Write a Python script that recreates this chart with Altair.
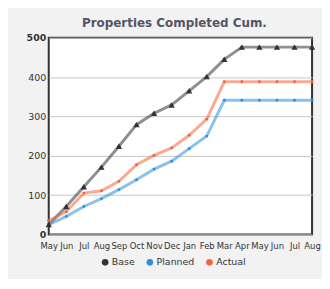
import altair as alt
import pandas as pd

months = ["May", "Jun", "Jul", "Aug", "Sep", "Oct", "Nov", "Dec",
          "Jan", "Feb", "Mar", "Apr", "May", "Jun", "Jul", "Aug"]
series_names = ["Base", "Planned", "Actual"]
base = [25, 71, 121, 171, 224, 279, 308, 329, 365, 401, 445, 476, 476, 476, 476, 476]
planned = [25, 46, 71, 91, 114, 139, 166, 186, 218, 250, 341, 341, 341, 341, 341, 341]
actual = [35, 58, 105, 111, 135, 177, 201, 220, 252, 293, 388, 388, 388, 388, 388, 388]
colors = ["#333333", "#2b8fde", "#f2653a"]
y_ticks = [0, 100, 200, 300, 400, 500]

rows = []
for name, vals in zip(series_names, [base, planned, actual]):
    for i, v in enumerate(vals):
        rows.append({"idx": i, "month": months[i], "series": name, "value": v})
df = pd.DataFrame(rows)

label_expr = "[" + ",".join("'%s'" % m for m in months) + "][datum.value]"

x = alt.X("idx:Q", scale=alt.Scale(domain=[0, len(months) - 1], nice=False, zero=False),
          axis=alt.Axis(values=list(range(len(months))), labelExpr=label_expr, title=None,
                        grid=False, ticks=False, domain=False, labelOverlap=False,
                        labelFlush=False, labelBound=False,
                        labelFontSize=8.5, labelColor="#333333", labelPadding=7,
                        labelFont="DejaVu Sans"))
y = alt.Y("value:Q", scale=alt.Scale(domain=[0, 500], nice=False),
          axis=alt.Axis(values=y_ticks, title=None, grid=True, gridColor="#c8c8c8",
                        ticks=False, domain=False, labelFontSize=9.5, labelColor="#333333",
                        labelPadding=3, labelFont="DejaVu Sans", labelFlush=False,
                        labelFontWeight=alt.condition("datum.value == 0 || datum.value == 500",
                                                      alt.value("bold"), alt.value("normal"))))

cscale = alt.Scale(domain=series_names, range=colors)

def make_legend():
    return alt.Legend(title=None, orient="none", legendX=52, legendY=221,
                      direction="horizontal", symbolType="circle", symbolSize=45,
                      labelFontSize=9.5, labelColor="#333333", labelFont="DejaVu Sans",
                      labelOffset=2, columnPadding=10, symbolStrokeWidth=0,
                      symbolOpacity=1)

lines = alt.Chart(df).mark_line(strokeWidth=3, strokeOpacity=0.55).encode(
    x=x, y=y,
    stroke=alt.Stroke("series:N", scale=cscale, legend=make_legend()),
    detail="series:N",
)
dots = alt.Chart(df).mark_circle(size=8, opacity=1).encode(
    x=x, y=y,
    fill=alt.Fill("series:N", scale=cscale, legend=make_legend()),
)
tris = alt.Chart(df).transform_filter(alt.datum.series == "Base").mark_point(
    shape="triangle-up", filled=True, size=40, color="#333333", opacity=1
).encode(x=x, y=y)

chart = alt.layer(lines, dots, tris).properties(
    width=265, height=198,
    title=alt.TitleParams("Properties Completed Cum.", fontSize=12, fontWeight="bold",
                          color="#555566", font="DejaVu Sans", anchor="middle", dx=-6, offset=3),
    background="#f2f2f2",
    autosize=alt.AutoSizeParams(type="none"),
    padding={"left": 41, "top": 29, "right": 10, "bottom": 44},
).configure_view(stroke="#333333", strokeWidth=2, fill="white")

chart.save("out.html", embed_options={"renderer": "svg", "actions": False})
